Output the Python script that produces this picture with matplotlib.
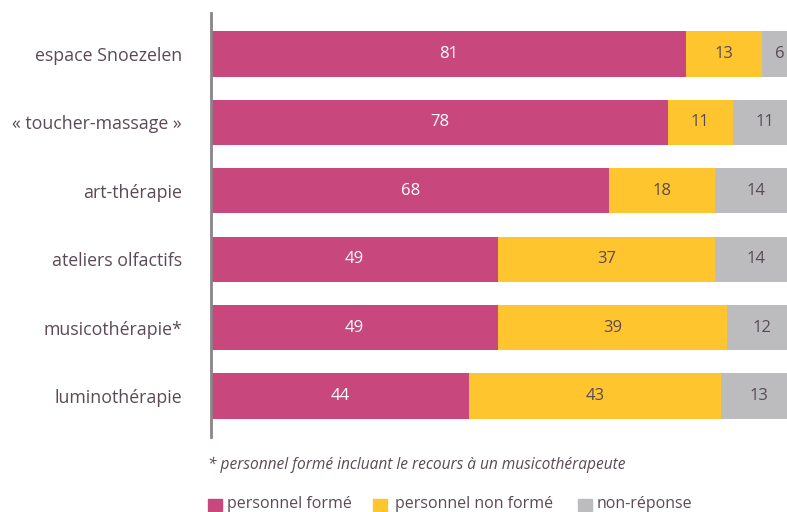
import matplotlib.pyplot as plt
import numpy as np

categories = ['espace Snoezelen', '« toucher-massage »', 'art-thérapie',
              'ateliers olfactifs', 'musicothérapie*', 'luminothérapie']
forme = [81, 78, 68, 49, 49, 44]
non_forme = [13, 11, 18, 37, 39, 43]
non_reponse = [6, 11, 14, 14, 12, 13]
series_names = ['personnel formé', 'personnel non formé', 'non-réponse']
note = '* personnel formé incluant le recours à un musicothérapeute'

colors = ['#C8487E', '#FEC52E', '#BCBCBE']
label_colors = ['white', '#5B4A55', '#5B4A55']
txt = '#5B4A55'

plt.rcParams['font.family'] = ['Open Sans', 'DejaVu Sans']

fig = plt.figure(figsize=(7.87, 5.12), dpi=100)
# axes deliberately runs past the right edge (bars cropped in the original)
ax = fig.add_axes([211 / 787, 75 / 512, 586 / 787, 424 / 512])

y = np.arange(len(categories))
left = np.zeros(len(categories))
for vals, c, lc in zip([forme, non_forme, non_reponse], colors, label_colors):
    vals = np.array(vals, dtype=float)
    ax.barh(y, vals, left=left, height=0.66, color=c, linewidth=0)
    for yi, l, v in zip(y, left, vals):
        ax.text(l + v / 2, yi, f'{int(v)}', ha='center', va='center',
                color=lc, fontsize=12)
    left += vals

ax.set_xlim(0, 100)
ax.set_ylim(len(categories) - 0.4, -0.6)
ax.set_yticks(y)
ax.set_yticklabels(categories, fontsize=12.8, color=txt)
ax.tick_params(axis='y', length=0, pad=21)
ax.set_xticks([])
for s in ['top', 'right', 'bottom']:
    ax.spines[s].set_visible(False)
ax.spines['left'].set_color('#8C8488')
ax.spines['left'].set_linewidth(2)

fig.text(208 / 787, 1 - 465 / 512, note, fontsize=11.2, style='italic',
         color=txt, va='center', ha='left')

# legend row
leg_sq = [208, 373, 578]
leg_txt = [227, 395, 597]
for xs, xt, c, name in zip(leg_sq, leg_txt, colors, series_names):
    fig.patches.append(plt.Rectangle((xs / 787, 1 - 511 / 512), 14 / 787, 12 / 512,
                                     transform=fig.transFigure, color=c))
    fig.text(xt / 787, 1 - 504 / 512, name, fontsize=11.5, color=txt,
             va='center', ha='left')

plt.savefig('out.png', dpi=100)
